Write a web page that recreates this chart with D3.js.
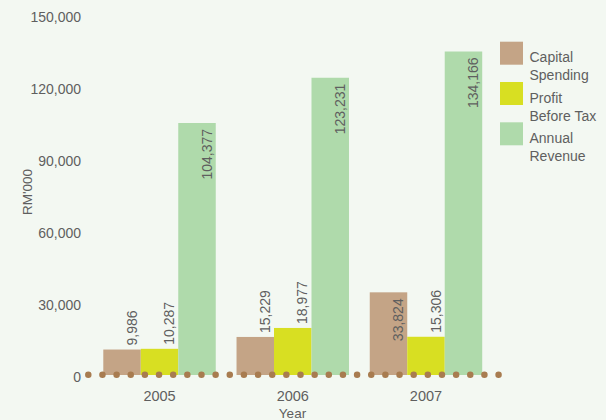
<!DOCTYPE html>
<html>
<head>
<meta charset="utf-8">
<script src="https://cdn.jsdelivr.net/npm/d3@7"></script>
<style>
  html, body { margin: 0; padding: 0; background: #f3f8f2; }
  svg { display: block; font-family: "Liberation Sans", Arial, Helvetica, sans-serif; }
</style>
</head>
<body>
<svg id="chart" width="606" height="420"></svg>
<script>
// Financial highlights (RM'000)
const years = ["2005", "2006", "2007"];
const seriesNames = ["Capital Spending", "Profit Before Tax", "Annual Revenue"];
const legendLines = [["Capital", "Spending"], ["Profit", "Before Tax"], ["Annual", "Revenue"]];
const capitalSpending = [9986, 15229, 33824];
const profitBeforeTax = [10287, 18977, 15306];
const annualRevenue = [104377, 123231, 134166];
const yTicks = [0, 30000, 60000, 90000, 120000, 150000];
const colors = ["#c4a486", "#d8df22", "#afdaab"];

const seriesValues = [capitalSpending, profitBeforeTax, annualRevenue];

const svg = d3.select("#chart");
const textColor = "#5f5f5f";

const x0 = d3.scaleBand().domain(years).range([92.9, 492.6])
  .paddingInner(0.156).paddingOuter(0.078);
const x1 = d3.scaleBand().domain(d3.range(seriesNames.length)).range([0, x0.bandwidth()]);
const y = d3.scaleLinear().domain([0, 150000]).range([373.5, 13.5]);

// y tick labels (no axis line)
const yAxis = d3.axisLeft(y).tickValues(yTicks).tickFormat(d3.format(",")).tickSize(0).tickPadding(0);
const gy = svg.append("g").attr("transform", "translate(81,3.3)").call(yAxis);
gy.select(".domain").remove();
gy.selectAll("text").attr("fill", textColor).attr("font-size", 14).attr("font-family", null);

// x tick labels
const xAxis = d3.axisBottom(x0).tickSize(0).tickPadding(0);
const gx = svg.append("g").attr("transform", "translate(0,390.4)").call(xAxis);
gx.select(".domain").remove();
gx.selectAll("text").attr("fill", textColor).attr("font-size", 14.5).attr("font-family", null);

// bars
const rows = years.map((yr, i) => ({ year: yr, vals: seriesValues.map((s, k) => ({ k, v: s[i] })) }));
const groups = svg.append("g").selectAll("g").data(rows).join("g")
  .attr("transform", d => `translate(${x0(d.year)},0)`);

groups.selectAll("rect").data(d => d.vals).join("rect")
  .attr("x", d => x1(d.k))
  .attr("width", x1.bandwidth())
  .attr("y", d => y(d.v))
  .attr("height", d => y(0) - y(d.v) + 1.5)
  .attr("fill", d => colors[d.k]);

// value labels, rotated; placed inside tall bars, above short ones
const fmt = d3.format(",");
groups.selectAll("text.val").data(d => d.vals).join("text")
  .attr("class", "val")
  .attr("font-size", 14)
  .attr("fill", textColor)
  .attr("transform", d => {
    const bx = x1(d.k) + x1.bandwidth() - 4;
    const inside = d.v > 30000;
    const by = inside ? y(d.v) + 6 : y(d.v) - 4;
    return `translate(${bx},${by}) rotate(-90)`;
  })
  .attr("text-anchor", d => d.v > 30000 ? "end" : "start")
  .text(d => fmt(d.v));

// dotted baseline
svg.append("line")
  .attr("x1", 88.3).attr("x2", 498.6)
  .attr("y1", y(0) + 1.3).attr("y2", y(0) + 1.3)
  .attr("stroke", "#a87c50")
  .attr("stroke-width", 6.5)
  .attr("stroke-linecap", "round")
  .attr("stroke-dasharray", "0 14.147");

// axis titles
svg.append("text").attr("x", 292.5).attr("y", 418).attr("text-anchor", "middle")
  .attr("font-size", 13.5).attr("fill", textColor).text("Year");
svg.append("text").attr("transform", "translate(31.5,192) rotate(-90)").attr("text-anchor", "middle")
  .attr("font-size", 13.5).attr("fill", textColor).text("RM'000");

// legend
const legend = svg.append("g").selectAll("g").data(seriesNames).join("g")
  .attr("transform", (d, i) => `translate(500,${41.7 + i * 40.3})`);
legend.append("rect").attr("width", 23).attr("height", 23).attr("fill", (d, i) => colors[i]);
legend.append("text")
  .attr("fill", textColor).attr("font-size", 14)
  .selectAll("tspan").data((d, i) => legendLines[i]).join("tspan")
  .attr("x", 29.5).attr("y", (d, j) => 20.6 + j * 18)
  .text(d => d);
</script>
</body>
</html>
